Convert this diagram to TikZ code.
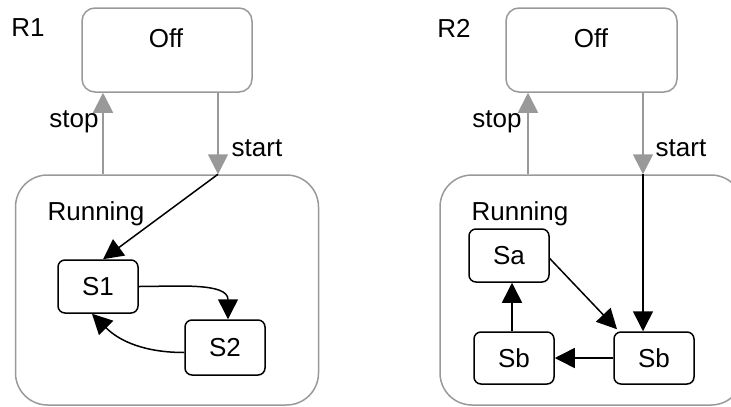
\documentclass[tikz,border=0pt]{standalone}
\usepackage{fontspec}
\setmainfont{Liberation Sans}
\usetikzlibrary{arrows.meta,calc}
\definecolor{frame}{HTML}{999999}
\begin{document}
\begin{tikzpicture}[x=1pt,y=-1pt,
  lbl/.style={font=\fontsize{26}{30}\selectfont,inner sep=0pt},
  outer/.style={draw=frame,line width=1.5pt,rounded corners=#1,inner sep=0pt},
  substate/.style={draw=black,line width=1.5pt,rounded corners=7pt,minimum width=80pt,minimum height=53pt,inner sep=0pt,font=\fontsize{26}{30}\selectfont},
  grayarr/.style={draw=frame,line width=1.8pt,-{Triangle[length=20pt,width=20pt]}},
  blackarr/.style={draw=black,line width=1.5pt,-{Triangle[length=20pt,width=20pt]}}]
\useasboundingbox (0,0) rectangle (731,407);
\clip (0,0) rectangle (731,407);
% ---------- left panel ----------
\node[lbl] (r1) at (28,28) {R1};
\node[outer=13pt,minimum width=170pt,minimum height=84pt] (Off1) at (167,50) {};
\node[lbl] (off1t) at (166,38) {Off};
\node[outer=32pt,minimum width=303pt,minimum height=230pt] (Run1) at (167,290) {};
\node[lbl] (run1t) at (96,214) {Running};
\node[substate] (S1) at (98,286.5) {S1};
\node[substate,minimum height=55pt] (S2) at (225,347.5) {S2};
\draw[grayarr] ([xshift=-64pt]Run1.north) -- ([xshift=-64pt]Off1.south);
\draw[grayarr] ([xshift=51pt]Off1.south) -- ([xshift=51pt]Run1.north);
\node[lbl] (stop1) at (74,122) {stop};
\node[lbl] (start1) at (257,148) {start};
\draw[blackarr] ([xshift=51pt]Run1.north) -- ([xshift=5pt]S1.north);
\draw[blackarr] (S1.east) to[out=0,in=90] ([xshift=3pt]S2.north);
\draw[blackarr] ([yshift=-5pt]S2.west) to[out=180,in=-45] ([xshift=-6pt]S1.south);
% ---------- right panel ----------
\node[lbl] (r2) at (454,28) {R2};
\node[outer=13pt,minimum width=171pt,minimum height=84pt] (Off2) at (591.5,50) {};
\node[lbl] (off2t) at (591,38) {Off};
\node[outer=32pt,minimum width=303pt,minimum height=230pt] (Run2) at (591.5,290) {};
\node[lbl] (run2t) at (520,214) {Running};
\node[substate] (Sa) at (509,255.5) {Sa};
\node[substate,minimum height=52pt] (SbL) at (514,358) {Sb};
\node[substate,minimum height=52pt] (SbR) at (654,358) {Sb};
\draw[grayarr] ([xshift=-63.5pt]Run2.north) -- ([xshift=-63.5pt]Off2.south);
\draw[grayarr] ([xshift=51.5pt]Off2.south) -- ([xshift=51.5pt]Run2.north);
\node[lbl] (stop2) at (497,122) {stop};
\node[lbl] (start2) at (681,148) {start};
\draw[blackarr] ([xshift=51.5pt]Run2.north) -- ([xshift=-11pt]SbR.north);
\draw[blackarr] ([yshift=-3pt]Sa.east) -- ([xshift=-37pt,yshift=2pt]SbR.north);
\draw[blackarr] (SbR.west) -- (SbL.east);
\draw[blackarr] ([xshift=-2pt]SbL.north) -- ([xshift=-2pt]SbL.north |- Sa.south);
\end{tikzpicture}
\end{document}
